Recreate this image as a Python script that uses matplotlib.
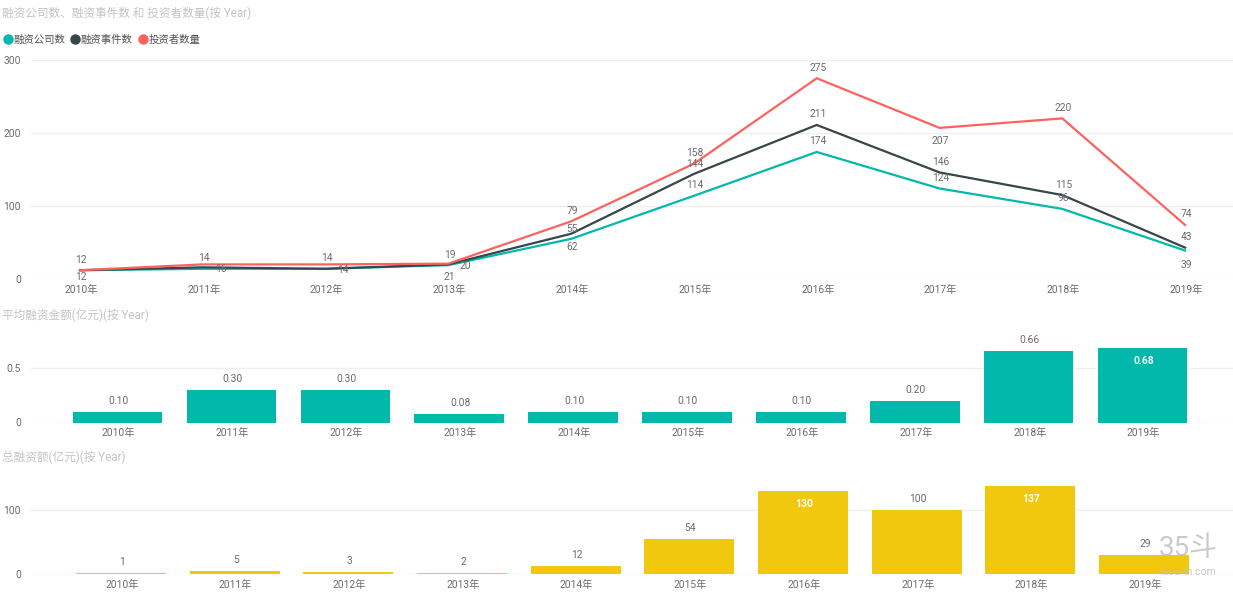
import matplotlib.pyplot as plt
from matplotlib.lines import Line2D
from matplotlib.transforms import ScaledTranslation

plt.rcParams["font.family"] = ["Roboto", "Noto Sans CJK SC", "DejaVu Sans"]

W, H = 1233, 593

years = ["2010年", "2011年", "2012年", "2013年", "2014年", "2015年", "2016年", "2017年", "2018年", "2019年"]

# line chart
companies = [12, 14, 14, 19, 55, 114, 174, 124, 96, 39]
events = [12, 16, 14, 20, 62, 144, 211, 146, 115, 43]
investors = [12, 20, 20, 21, 79, 158, 275, 207, 220, 74]

# bars
avg_amount = [0.10, 0.30, 0.30, 0.08, 0.10, 0.10, 0.10, 0.20, 0.66, 0.68]
total_amount = [1, 5, 3, 2, 12, 54, 130, 100, 137, 29]

TEAL = "#01B8AA"
DARK = "#374649"
RED = "#FD625E"
YELLOW = "#F2C80F"
GRID = "#efefef"
TEXT = "#6b6b6b"
TITLE = "#c4c4c4"


def make_axes(fig, top, bottom, left=31, right=1233):
    return fig.add_axes([left / W, 1 - bottom / H, (right - left) / W, (bottom - top) / H])


def style(ax, yticks, yticklabels):
    for s in ax.spines.values():
        s.set_visible(False)
    ax.set_yticks(yticks)
    ax.set_yticklabels(yticklabels)
    ax.grid(axis="y", color=GRID, linewidth=1)
    ax.set_axisbelow(True)
    ax.set_xticks(range(len(years)))
    ax.set_xticklabels(years)
    ax.tick_params(axis="both", length=0, labelsize=7.4, labelcolor=TEXT)
    ax.tick_params(axis="x", pad=4)
    ax.tick_params(axis="y", pad=7.2)
    # x labels sit 1px right of the tick
    shift = ScaledTranslation(1 / 100, 0, fig.dpi_scale_trans)
    for t in ax.get_xticklabels():
        t.set_transform(t.get_transform() + shift)


def label(ax, x, y, text, dx=0, dy=0, **kw):
    kw.setdefault("color", TEXT)
    kw.setdefault("fontsize", 7.4)
    ax.annotate(text, (x, y), xytext=(dx + 1, dy - 1), textcoords="offset pixels",
                ha="center", va="center", annotation_clip=False, **kw)


fig = plt.figure(figsize=(W / 100, H / 100), dpi=100, facecolor="white")

# top chart
ax1 = make_axes(fig, 60, 279)
ax1.set_xlim(-0.399, 9.39)
ax1.set_ylim(0, 300)
style(ax1, [0, 100, 200, 300], ["0", "100", "200", "300"])
ax1.plot(companies, color=TEAL, linewidth=1.6, solid_joinstyle="miter")
ax1.plot(events, color=DARK, linewidth=1.6, solid_joinstyle="miter")
ax1.plot(investors, color=RED, linewidth=1.6, solid_joinstyle="miter")

# label offsets, px from the point, same placement rule as the original
company_dy = [11, 12, 12, 11, 11, 12, 12, 11, 12, -13]
event_off = [(0, -6), (17, -1), (16, 0), (16, -1), (0, -12), (0, 11), (0, 12), (0, 11), (0, 11), (0, 12)]
investor_dy = [None, None, None, -12, 11, 12, 11, -12, 11, 12]

for i in range(len(years)):
    label(ax1, i, companies[i], str(companies[i]), dy=company_dy[i])
    label(ax1, i, events[i], str(events[i]), dx=event_off[i][0], dy=event_off[i][1])
    if investor_dy[i] is not None:
        label(ax1, i, investors[i], str(investors[i]), dy=investor_dy[i])

fig.text(2 / W, 1 - 13 / H, "融资公司数、融资事件数 和 投资者数量(按 Year)", color=TITLE, fontsize=8.4, va="center")

# legend
for x, name, c in [(7.5, "融资公司数", TEAL), (74.5, "融资事件数", DARK), (142.5, "投资者数量", RED)]:
    fig.add_artist(Line2D([x / W], [1 - 39 / H], marker="o", markersize=6.5, color=c, linestyle="none"))
    fig.text((x + 6) / W, 1 - 39.5 / H, name, color="#505050", fontsize=7.5, va="center")

# middle chart
ax2 = make_axes(fig, 341, 422.5)
ax2.set_xlim((31 - 117.5) / 113.9, (1233 - 117.5) / 113.9)
ax2.set_ylim(0, 81.5 / 109)
style(ax2, [0, 0.5], ["0", "0.5"])
ax2.bar(range(len(years)), avg_amount, width=0.785, color=TEAL)
for i, v in enumerate(avg_amount):
    if v == max(avg_amount):
        label(ax2, i, v, f"{v:.2f}", dy=-12, color="white", fontweight="bold")
    else:
        label(ax2, i, v, f"{v:.2f}", dy=12)
fig.text(2 / W, 1 - 315 / H, "平均融资金额(亿元)(按 Year)", color=TITLE, fontsize=8.4, va="center")

# bottom chart
ax3 = make_axes(fig, 482, 574)
ax3.set_xlim((31 - 121) / 113.67, (1233 - 121) / 113.67)
ax3.set_ylim(0, 92 / 0.64)
style(ax3, [0, 100], ["0", "100"])
ax3.bar(range(len(years)), total_amount, width=0.79, color=YELLOW)
for i, v in enumerate(total_amount):
    if v in (130, 137):
        label(ax3, i, v, str(v), dy=-12, color="white", fontweight="bold")
    else:
        label(ax3, i, v, str(v), dy=12)
fig.text(2 / W, 1 - 457 / H, "总融资额(亿元)(按 Year)", color=TITLE, fontsize=8.4, va="center")

# watermark
fig.text(1188 / W, 1 - 548 / H, "35斗", color="#bdbdbd", fontsize=20, ha="center", va="center", alpha=0.8)
fig.text(1188 / W, 1 - 572 / H, "vcearth.com", color="#bdbdbd", fontsize=7.5, ha="center", va="center", alpha=0.8)

fig.savefig("out.png", dpi=100)
